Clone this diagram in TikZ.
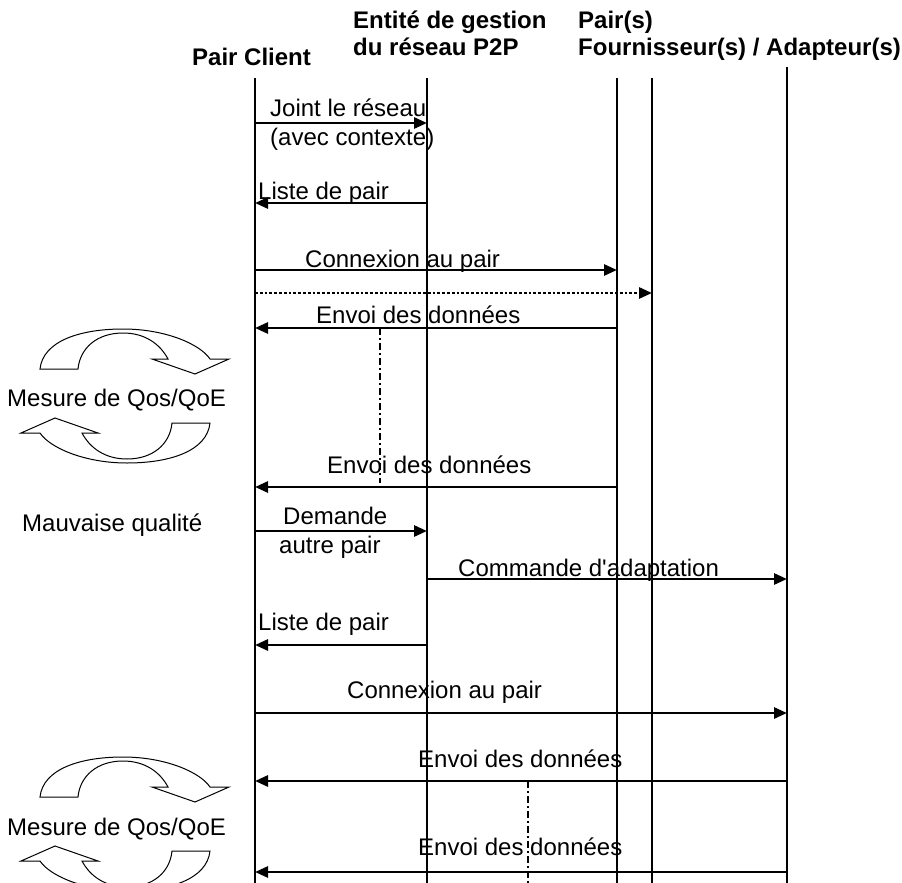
\documentclass[tikz,border=0pt]{standalone}
\usepackage{fontspec}
\setmainfont{Liberation Sans}[Ligatures=TeXOff]
\usetikzlibrary{arrows.meta}
\tikzset{
  vie/.style={black,line width=2.8pt},
  msg/.style={-{Triangle[length=13pt,width=11pt]},black,line width=2.8pt},
  msgpt/.style={msg,dotted},
  axe/.style={black,line width=1.8pt,dash pattern=on 7pt off 3pt on 2pt off 3pt},
  boucle/.style={draw=black,fill=white,line width=1pt},
  titre/.style={font=\bfseries\fontsize{24}{28}\selectfont,anchor=base west,inner sep=0pt},
  etiq/.style={font=\fontsize{24}{28}\selectfont,anchor=base west,inner sep=0pt},
  boucleqos/.pic={
    \draw[boucle] (-85,-27) .. controls (-82,-55) and (-45,-67) .. (-2,-67)
      .. controls (40,-67) and (75,-52) .. (85,-37) -- (104,-37) -- (70,-22) -- (27,-37) -- (43,-37)
      .. controls (35,-52) and (20,-63) .. (-2,-63) .. controls (-28,-63) and (-45,-48) .. (-47,-27) -- cycle;
    \draw[boucle,rotate=180] (-85,-27) .. controls (-82,-55) and (-45,-67) .. (-2,-67)
      .. controls (40,-67) and (75,-52) .. (85,-37) -- (104,-37) -- (70,-22) -- (27,-37) -- (43,-37)
      .. controls (35,-52) and (20,-63) .. (-2,-63) .. controls (-28,-63) and (-45,-48) .. (-47,-27) -- cycle;
  },
}
\begin{document}
\begin{tikzpicture}[x=1pt,y=-1pt]
  \useasboundingbox (0,0) rectangle (902,883);
  % en-tetes
  \node[titre] (hcl) at (192,66) {Pair Client};
  \node[titre] (hen) at (353,29) {Entité de gestion};
  \node[titre] (hen2) at (353,56) {du réseau P2P};
  \node[titre] (hpr) at (578,29) {Pair(s)};
  \node[titre] (hpr2) at (578,56) {Fournisseur(s) / Adapteur(s)};
  % lignes de vie
  \coordinate (cl) at (255,78);
  \coordinate (en) at (427,78);
  \coordinate (p1) at (617,78);
  \coordinate (p2) at (652,78);
  \coordinate (ad) at (787,67);
  \coordinate (bas) at (0,883);
  \draw[vie] (cl) -- (cl |- bas);
  \draw[vie] (en) -- (en |- bas);
  \draw[vie] (p1) -- (p1 |- bas);
  \draw[vie] (p2) -- (p2 |- bas);
  \draw[vie] (ad) -- (ad |- bas);
  % boucles de mesure
  \pic at (125,396) {boucleqos};
  \pic at (125,824) {boucleqos};
  \node[etiq] (mes1) at (7,406) {Mesure de Qos/QoE};
  \node[etiq] (mes2) at (7,835) {Mesure de Qos/QoE};
  \node[etiq] (mauv) at (22,531) {Mauvaise qualité};
  % messages
  \draw[msg] (cl |- 0,123) -- (en |- 0,123);
  \node[etiq] (joint) at (270,116) {Joint le réseau};
  \node[etiq] (ctx) at (270,145) {(avec contexte)};
  \draw[msg] (en |- 0,203) -- (cl |- 0,203);
  \node[etiq] (liste1) at (258,199) {Liste de pair};
  \draw[msg] (cl |- 0,270) -- (p1 |- 0,270);
  \node[etiq] (cnx1) at (305,267) {Connexion au pair};
  \draw[msgpt] (cl |- 0,293) -- (p2 |- 0,293);
  \draw[msg] (p1 |- 0,328) -- (cl |- 0,328);
  \node[etiq] (env1) at (316,323) {Envoi des données};
  \draw[axe] (380,328) -- (380,483);
  \draw[msg] (p1 |- 0,487) -- (cl |- 0,487);
  \node[etiq] (env2) at (327,473) {Envoi des données};
  \draw[msg] (cl |- 0,531) -- (en |- 0,531);
  \node[etiq] (dem) at (283,524) {Demande};
  \node[etiq] (dem2) at (279,553) {autre pair};
  \draw[msg] (en |- 0,579) -- (ad |- 0,579);
  \node[etiq] (cmd) at (458,576) {Commande d'adaptation};
  \draw[msg] (en |- 0,645) -- (cl |- 0,645);
  \node[etiq] (liste2) at (258,630) {Liste de pair};
  \draw[msg] (cl |- 0,713) -- (ad |- 0,713);
  \node[etiq] (cnx2) at (347,698) {Connexion au pair};
  \draw[msg] (ad |- 0,781) -- (cl |- 0,781);
  \node[etiq] (env3) at (418,767) {Envoi des données};
  \draw[axe] (528,781) -- (528,883);
  \draw[msg] (ad |- 0,872) -- (cl |- 0,872);
  \node[etiq] (env4) at (418,855) {Envoi des données};
\end{tikzpicture}
\end{document}
